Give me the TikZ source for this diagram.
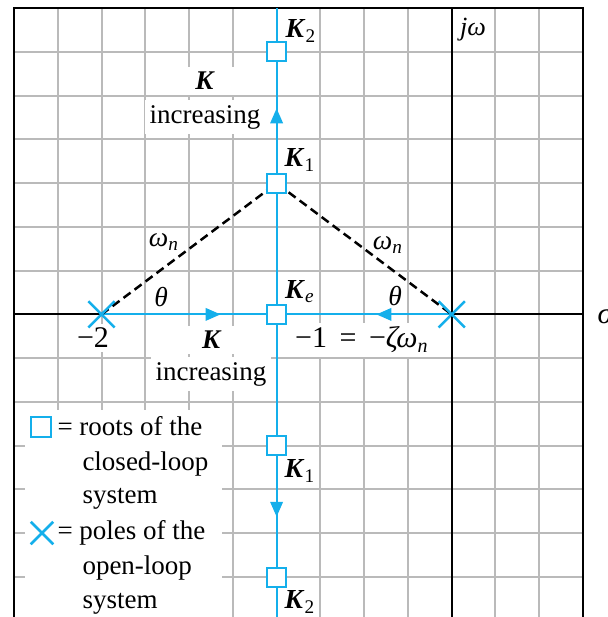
\documentclass[tikz,border=0pt]{standalone}
\usepackage{fontspec}
\setmainfont{Liberation Serif}
\usetikzlibrary{shapes.misc,arrows.meta,decorations.markings}
\definecolor{rlblue}{RGB}{20,175,235}
\begin{document}
\begin{tikzpicture}[x=0.4pt,y=-0.4pt,
  gridline/.style={draw=black!27,line width=0.8pt},
  frameline/.style={draw=black,line width=0.9pt},
  axisline/.style={draw=black,line width=0.75pt},
  rlline/.style={draw=rlblue,line width=0.85pt},
  rlarrow/.style={postaction={decorate,decoration={markings,mark=at position #1 with {\arrow[rlblue]{Triangle[length=6pt,width=5pt]}}}}},
  rootbox/.style={draw=rlblue,fill=white,line width=0.85pt,minimum size=7.6pt,inner sep=0pt},
  polex/.style={cross out,draw=rlblue,line width=1pt,minimum size=9.5pt,inner sep=0pt},
  klabel/.style={font=\fontsize{11}{12}\selectfont,inner sep=1pt},
  txt/.style={font=\fontsize{10.8}{13}\selectfont,inner sep=1.5pt,fill=white},
  legtxt/.style={font=\fontsize{10.8}{13}\selectfont,inner sep=0pt,anchor=base west},
  mathlab/.style={font=\fontsize{11}{12}\selectfont,inner sep=0pt},
  dashline/.style={draw=black,line width=1pt,dash pattern=on 3.5pt off 2pt}
]
\useasboundingbox (0,0) rectangle (607,617);
% grid
\foreach \i in {1,...,12}{\draw[gridline] ({14+\i*43.77},8) -- ({14+\i*43.77},617);}
\foreach \j in {1,...,13}{\draw[gridline] (14,{8+\j*43.77}) -- (583,{8+\j*43.77});}
% key coordinates
\coordinate (pm2) at (101.5,314.4);
\coordinate (pz) at (451.7,314.4);
\coordinate (Ke) at (276.6,314.4);
\coordinate (K1u) at (276.6,183.3);
\coordinate (K2u) at (276.6,51.8);
\coordinate (K1d) at (276.6,445.9);
\coordinate (K2d) at (276.6,577.2);
\coordinate (btop) at (276.6,8);
\coordinate (bbot) at (276.6,617);
\coordinate (ltop) at (14,8);
\coordinate (lbot) at (14,617);
\coordinate (rtop) at (583,8);
\coordinate (rbot) at (583,617);
\coordinate (rax) at (583,314.4);
\coordinate (lax) at (14,314.4);
\coordinate (jtop) at (451.7,8);
\coordinate (jbot) at (451.7,617);
% legend background
\fill[white] (25,410) rectangle (222,617);
% text labels with white background
\node[txt,minimum width=30pt,minimum height=11pt] (kup) at (205,81) {\textbf{\textit{K}}};
\node[txt,inner sep=2pt] (incup) at (205,117) {increasing};
\node[txt,minimum width=30pt,minimum height=11pt] (kdn) at (212,340) {\textbf{\textit{K}}};
\node[txt,inner sep=2pt] (incdn) at (211,374) {increasing};
\node[txt,font=\fontsize{12}{13}\selectfont] (m2) at (93,338) {−2};
\node[txt,font=\fontsize{12}{13}\selectfont] (m1) at (362,340) {−1 \,=\, −\textit{ζω}\textsubscript{\textit{n}}};
% axes and frame
\draw[axisline] (lax) -- (pm2);
\draw[axisline] (pz) -- (rax);
\draw[axisline] (jtop) -- (jbot);
\draw[frameline] (lbot) -- (ltop) -- (rtop) -- (rbot);
% root locus
\draw[rlline] (btop) -- (K2u);
\draw[rlline,rlarrow=0.57] (K1u) -- (K2u);
\draw[rlline] (Ke) -- (K1u);
\draw[rlline] (Ke) -- (K1d);
\draw[rlline,rlarrow=0.54] (K1d) -- (K2d);
\draw[rlline] (K2d) -- (bbot);
\draw[rlline,rlarrow=0.68] (pm2) -- (Ke);
\draw[rlline,rlarrow=0.43] (pz) -- (Ke);
% dashed
\draw[dashline] (pm2) -- (K1u) -- (pz);
% markers
\node[rootbox] (rK2u) at (K2u) {};
\node[rootbox] (rK1u) at (K1u) {};
\node[rootbox] (rKe) at (Ke) {};
\node[rootbox] (rK1d) at (K1d) {};
\node[rootbox] (rK2d) at (K2d) {};
\node[polex] (xm2) at (pm2) {};
\node[polex] (xz) at (pz) {};
% K labels
\node[klabel] (lK2u) at (301,31) {\textbf{\textit{K}}\textsubscript{2}};
\node[klabel] (lK1u) at (300,160) {\textbf{\textit{K}}\textsubscript{1}};
\node[klabel] (lKe) at (300,292) {\textbf{\textit{K}}\textsubscript{\textit{e}}};
\node[klabel] (lK1d) at (300,471) {\textbf{\textit{K}}\textsubscript{1}};
\node[klabel] (lK2d) at (300,602) {\textbf{\textit{K}}\textsubscript{2}};
% other labels
\node[mathlab,font=\fontsize{10.5}{12}\selectfont] (jw) at (473,30) {\textit{jω}};
\node[mathlab,anchor=west,font=\fontsize{12}{13}\selectfont] (sig) at (597,316) {\textit{σ}};
\node[mathlab] (wl) at (164,242) {\textit{ω}\textsubscript{\textit{n}}};
\node[mathlab] (tl) at (161,297) {\textit{θ}};
\node[mathlab] (wr) at (388,245) {\textit{ω}\textsubscript{\textit{n}}};
\node[mathlab] (tr) at (395,296) {\textit{θ}};
% legend
\node[rootbox,minimum size=8pt] (legbox) at (41,427) {};
\node[legtxt] (leg1) at (57,435) {= roots of the};
\node[legtxt] (leg2) at (82,470) {closed-loop};
\node[legtxt] (leg3) at (82,503) {system};
\node[polex,minimum size=8pt] (legx) at (42,533) {};
\node[legtxt] (leg4) at (57,539) {= poles of the};
\node[legtxt] (leg5) at (82,574) {open-loop};
\node[legtxt] (leg6) at (82,608) {system};
\end{tikzpicture}
\end{document}
